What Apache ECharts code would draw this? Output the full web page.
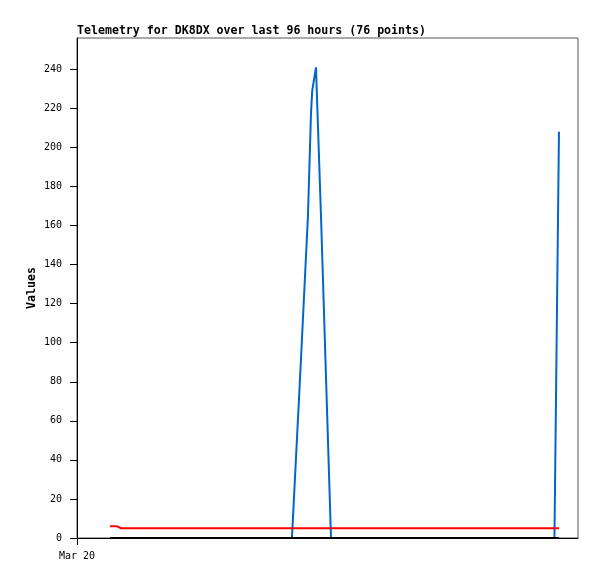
<!DOCTYPE html>
<html>
<head>
<meta charset="utf-8">
<script src="https://cdn.jsdelivr.net/npm/echarts@6/dist/echarts.min.js"></script>
<style>
html,body{margin:0;padding:0;background:#fff;}
#chart{width:597px;height:579px;}
</style>
</head>
<body>
<div id="chart"></div>
<script>
// time position of each of the 76 samples (hours from Mar 20 00:00)
var times = [6.6, 8.0, 8.8, 10.1, 11.5, 12.9, 14.3, 15.8, 17.2, 18.6, 20.0, 21.5, 22.9, 24.3, 25.7, 27.2, 28.6, 30.0, 31.4, 32.9, 34.3, 35.7, 37.1, 38.6, 40.0, 41.4, 42.9,
  44.6, 46.1, 46.7, 46.95, 47.7, 48.7, 50.7,
  51.8, 52.9, 54.0, 55.1, 56.2, 57.3, 58.4, 59.5, 60.6, 61.7, 62.8, 63.9, 65.0, 66.1, 67.2, 68.3, 69.4, 70.5, 71.6, 72.7, 73.8, 74.9, 76.0, 77.1, 78.2, 79.3, 80.4, 81.5, 82.6, 83.7, 84.8, 85.9, 87.0, 88.1, 89.2, 90.3, 91.4, 92.5, 93.6, 94.4, 95.3,
  96.2];
var blueValues = [0,0,0,0,0,0,0,0,0,0,0,0,0,0,0,0,0,0,0,0,0,0,0,0,0,0,0,
  86,165,217,229,241,165,0,
  0,0,0,0,0,0,0,0,0,0,0,0,0,0,0,0,0,0,0,0,0,0,0,0,0,0,0,0,0,0,0,0,0,0,0,0,0,0,0,0,0,
  208];
var redValues = [6,6,5,5,5,5,5,5,5,5,5,5,5,5,5,5,5,5,5,5,5,5,5,5,5,5,5,
  5,5,5,5,5,5,5,
  5,5,5,5,5,5,5,5,5,5,5,5,5,5,5,5,5,5,5,5,5,5,5,5,5,5,5,5,5,5,5,5,5,5,5,5,5,5,5,5,5,
  5];
var blackValues = [0,0,0,0,0,0,0,0,0,0,0,0,0,0,0,0,0,0,0,0,0,0,0,0,0,0,0,
  0,0,0,0,0,0,0,
  0,0,0,0,0,0,0,0,0,0,0,0,0,0,0,0,0,0,0,0,0,0,0,0,0,0,0,0,0,0,0,0,0,0,0,0,0,0,0,0,0,
  0];
var yTicks = [0,20,40,60,80,100,120,140,160,180,200,220,240];
var xTickValues = [0];
var xTickLabels = ['Mar 20'];

function pairs(vals){ return times.map(function(t,i){ return [t, vals[i]]; }); }

var chart = echarts.init(document.getElementById('chart'), null, {renderer:'canvas'});
chart.setOption({
  animation:false,
  backgroundColor:'#fff',
  title:{
    text:'Telemetry for DK8DX over last 96 hours (76 points)',
    left:77, top:25, padding:0,
    textStyle:{fontFamily:'DejaVu Sans Mono', fontWeight:'bold', fontSize:11.6, color:'#000'}
  },
  grid:{left:77, top:38, right:19, bottom:41, show:true, borderColor:'#555', borderWidth:1, backgroundColor:'transparent'},
  xAxis:{
    type:'value', min:0, max:100,
    splitLine:{show:false},
    axisLine:{show:true, onZero:false, lineStyle:{color:'#000', width:1}},
    axisTick:{show:true, length:7, customValues:xTickValues, lineStyle:{color:'#000'}},
    axisLabel:{show:true, customValues:xTickValues, margin:13,
      formatter:function(v){ var i = xTickValues.indexOf(v); return i>=0 ? xTickLabels[i] : ''; },
      fontFamily:'DejaVu Sans Mono', fontSize:10, color:'#000'}
  },
  yAxis:{
    type:'value', min:0, max:256,
    name:'Values', nameLocation:'middle', nameGap:39, nameMoveOverlap:false,
    nameTextStyle:{fontFamily:'DejaVu Sans Mono', fontWeight:'bold', fontSize:11.6, color:'#000'},
    splitLine:{show:false},
    axisLine:{show:true, lineStyle:{color:'#000', width:1}},
    axisTick:{show:true, length:7, customValues:yTicks, lineStyle:{color:'#000'}},
    axisLabel:{customValues:yTicks, margin:15, fontFamily:'DejaVu Sans Mono', fontSize:10, color:'#000'}
  },
  series:[
    {type:'line', data:pairs(blueValues), symbol:'none', lineStyle:{color:'#0066cc', width:2}},
    {type:'line', data:pairs(redValues), symbol:'none', lineStyle:{color:'#ff0000', width:2}},
    {type:'line', data:pairs(blackValues), symbol:'none', lineStyle:{color:'#000000', width:2}}
  ]
});
</script>
</body>
</html>
